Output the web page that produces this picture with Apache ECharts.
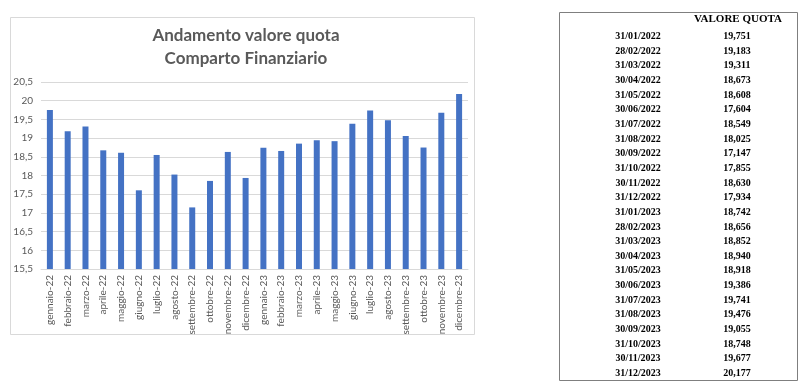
<!DOCTYPE html>
<html>
<head>
<meta charset="utf-8">
<script src="https://cdn.jsdelivr.net/npm/echarts@6/dist/echarts.min.js"></script>
<style>
html,body{margin:0;padding:0;background:#fff;}
#c{width:800px;height:384px;}
</style>
</head>
<body>
<div id="c"></div>
<script>
var categories = ['gennaio-22','febbraio-22','marzo-22','aprile-22','maggio-22','giugno-22','luglio-22','agosto-22','settembre-22','ottobre-22','novembre-22','dicembre-22',
  'gennaio-23','febbraio-23','marzo-23','aprile-23','maggio-23','giugno-23','luglio-23','agosto-23','settembre-23','ottobre-23','novembre-23','dicembre-23'];
var values = [19.751,19.183,19.311,18.673,18.608,17.604,18.549,18.025,17.147,17.855,18.630,17.934,
  18.742,18.656,18.852,18.940,18.918,19.386,19.741,19.476,19.055,18.748,19.677,20.177];
var dates = ['31/01/2022','28/02/2022','31/03/2022','30/04/2022','31/05/2022','30/06/2022','31/07/2022','31/08/2022','30/09/2022','31/10/2022','30/11/2022','31/12/2022',
  '31/01/2023','28/02/2023','31/03/2023','30/04/2023','31/05/2023','30/06/2023','31/07/2023','31/08/2023','30/09/2023','31/10/2023','30/11/2023','31/12/2023'];
var titleLines = ['Andamento valore quota','Comparto Finanziario'];
var tableHeader = 'VALORE QUOTA';

function fmt(v){ return v.toFixed(3).replace('.', ','); }

var graphics = [];
// chart frame
graphics.push({type:'rect', left:8, top:15, shape:{width:464, height:317}, style:{fill:'none', stroke:'#d9d9d9', lineWidth:1}, silent:true, z:-1});
// table frame
var tX = 557, tY = 10, tW = 238, tH = 368;
graphics.push({type:'rect', left:tX, top:tY, shape:{width:tW, height:tH}, style:{fill:'none', stroke:'#7f7f7f', lineWidth:1}, silent:true});
graphics.push({type:'text', x:738, y:19, style:{text:tableHeader, font:'bold 11px "Liberation Serif"', fill:'#000', align:'center', verticalAlign:'middle'}});
for (var i=0;i<dates.length;i++){
  var y = 36.5 + i*14.65;
  graphics.push({type:'text', x:638, y:y, style:{text:dates[i], font:'bold 10px "Liberation Serif"', fill:'#000', align:'center', verticalAlign:'middle'}});
  graphics.push({type:'text', x:737, y:y, style:{text:fmt(values[i]), font:'bold 10px "Liberation Serif"', fill:'#000', align:'center', verticalAlign:'middle'}});
}

var chart = echarts.init(document.getElementById('c'), null, {renderer:'canvas'});
chart.setOption({
  animation:false,
  backgroundColor:'#fff',
  title:{
    text: titleLines.join('\n'),
    left: 241, top: 19, textAlign:'center',
    textStyle:{fontFamily:'Lato', fontWeight:'bold', fontSize:17, color:'#595959', lineHeight:23}
  },
  grid:{left:41, right:332, top:82, bottom:115, containLabel:false},
  xAxis:{
    type:'category', data:categories,
    axisLine:{lineStyle:{color:'#d9d9d9'}},
    axisTick:{show:false},
    axisLabel:{rotate:90, interval:0, fontFamily:'Lato', fontSize:10, color:'#595959', margin:6}
  },
  yAxis:{
    type:'value', min:15.5, max:20.5, interval:0.5,
    axisLine:{show:false}, axisTick:{show:false},
    splitLine:{lineStyle:{color:'#d9d9d9'}},
    axisLabel:{fontFamily:'Lato', fontSize:10, color:'#595959', margin:8,
      formatter:function(v){ return String(v).replace('.', ','); }}
  },
  series:[{
    type:'bar', data:values, barWidth:6,
    itemStyle:{color:'#4472c4'}
  }],
  graphic: graphics
});
</script>
</body>
</html>
